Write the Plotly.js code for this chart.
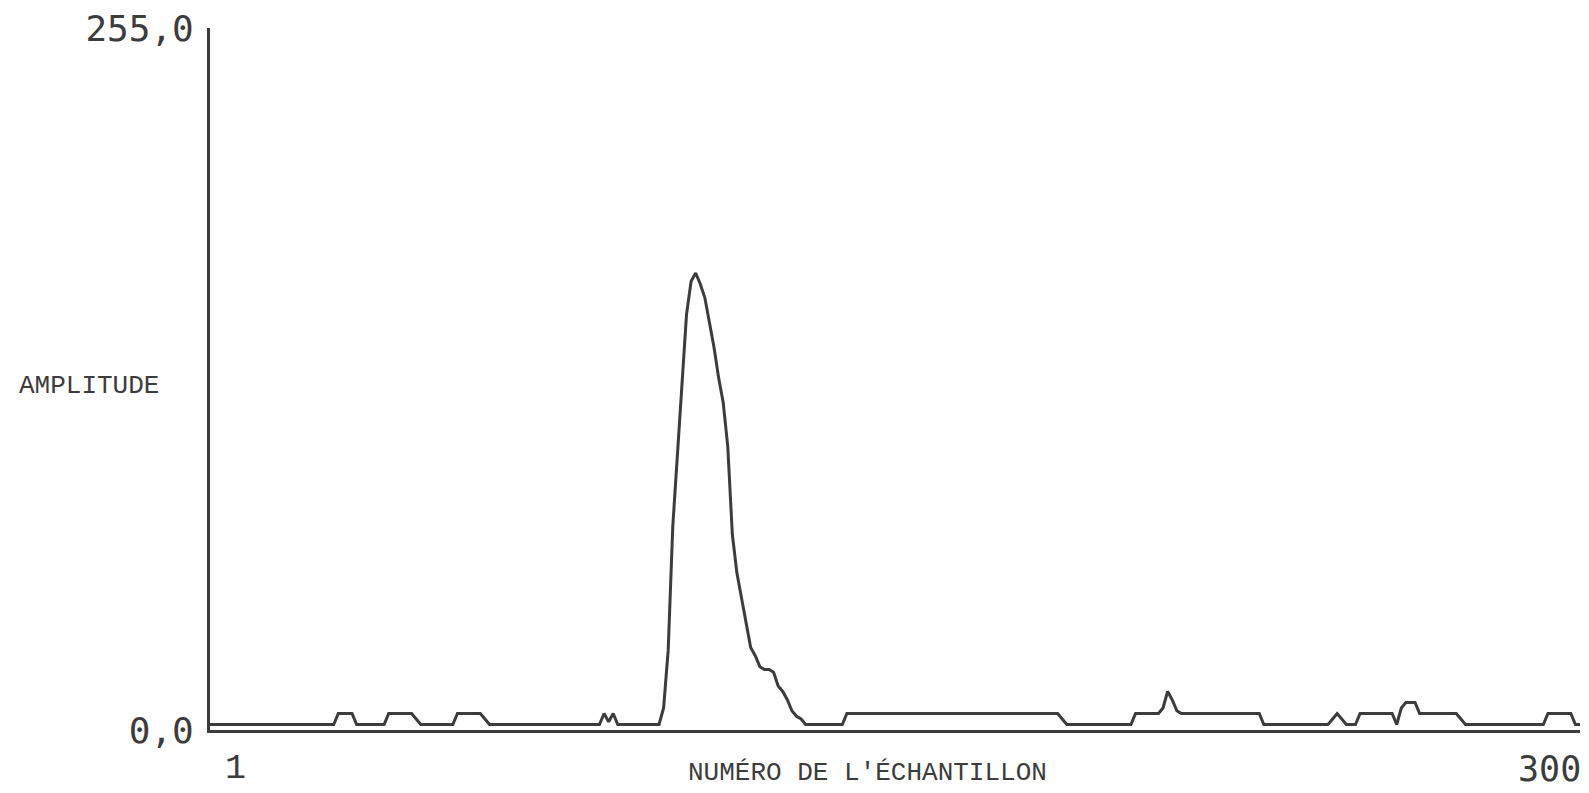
<!DOCTYPE html>
<html>
<head>
<meta charset="utf-8">
<script src="https://cdn.plot.ly/plotly-3.0.1.min.js"></script>
<style>html,body{margin:0;padding:0;background:#fff;}#chart{width:1589px;height:793px;}</style>
</head>
<body>
<div id="chart"></div>
<script>
// Sample numbers run from 1 to 300 (x0 = 1, dx = 1)
const firstSample = 1;
const lastSample = 300;

// Amplitude of each sample
const amplitude = [
  2,2,2,2,2,2,2,2,2,2,
  2,2,2,2,2,2,2,2,2,2,
  2,2,2,2,2,2,2,2,6,6,
  6,6,2,2,2,2,2,2,2,6,
  6,6,6,6,6,4,2,2,2,2,
  2,2,2,2,6,6,6,6,6,6,
  4,2,2,2,2,2,2,2,2,2,
  2,2,2,2,2,2,2,2,2,2,
  2,2,2,2,2,2,6,3,6,2,
  2,2,2,2,2,2,2,2,2,8,
  29,74,99,124,151,163,166,162,157,148,
  139,128,119,103,71,57,48,38,30,27,
  23,22,22,21,16,14,11,7,5,4,
  2,2,2,2,2,2,2,2,2,6,
  6,6,6,6,6,6,6,6,6,6,
  6,6,6,6,6,6,6,6,6,6,
  6,6,6,6,6,6,6,6,6,6,
  6,6,6,6,6,6,6,6,6,6,
  6,6,6,6,6,6,4,2,2,2,
  2,2,2,2,2,2,2,2,2,2,
  2,2,6,6,6,6,6,6,8,14,
  11,7,6,6,6,6,6,6,6,6,
  6,6,6,6,6,6,6,6,6,6,
  2,2,2,2,2,2,2,2,2,2,
  2,2,2,2,2,4,6,4,2,2,
  2,6,6,6,6,6,6,6,6,2,
  8,10,10,10,6,6,6,6,6,6,
  6,6,6,4,2,2,2,2,2,2,
  2,2,2,2,2,2,2,2,2,2,
  2,2,6,6,6,6,6,6,2,2
];

const yTickVals = [0, 255];
const yTickText = ['0,0', '255,0'];
const xTickLabels = ['1', '300'];
const yTitle = 'AMPLITUDE';
const xTitle = "NUMÉRO DE L'ÉCHANTILLON";

const ink = '#3c3c3c';
const plotterFont = 'DejaVu Sans Mono, monospace';
const typeFont = 'Liberation Mono, Courier New, monospace';

const trace = {
  type: 'scatter',
  mode: 'lines',
  x0: firstSample,
  dx: 1,
  y: amplitude,
  line: {color: ink, width: 3},
  hoverinfo: 'skip'
};

const layout = {
  width: 1589,
  height: 793,
  margin: {l: 210, r: 9, t: 28, b: 62.5, pad: 0},
  paper_bgcolor: '#ffffff',
  plot_bgcolor: '#ffffff',
  showlegend: false,
  xaxis: {
    range: [firstSample, lastSample],
    showgrid: false,
    zeroline: false,
    showline: true,
    linecolor: ink,
    linewidth: 3,
    ticks: '',
    showticklabels: false,
    fixedrange: true
  },
  yaxis: {
    range: [0, 255],
    showgrid: false,
    zeroline: false,
    showline: true,
    linecolor: ink,
    linewidth: 3,
    ticks: '',
    tickmode: 'array',
    tickvals: yTickVals,
    ticktext: yTickText,
    tickfont: {family: plotterFont, size: 36, color: ink},
    ticklabelstandoff: 6,
    fixedrange: true
  },
  annotations: [
    {text: xTickLabels[0], xref: 'x', yref: 'paper', x: firstSample, y: 0,
     xanchor: 'center', yanchor: 'bottom', xshift: 25, yshift: -61, showarrow: false,
     font: {family: typeFont, size: 35, color: ink}},
    {text: xTickLabels[1], xref: 'x', yref: 'paper', x: lastSample, y: 0,
     xanchor: 'center', yanchor: 'bottom', xshift: -31, yshift: -61, showarrow: false,
     font: {family: plotterFont, size: 35, color: ink}},
    {text: yTitle, xref: 'paper', yref: 'paper', x: -0.1409, y: 0.4897,
     xanchor: 'left', yanchor: 'middle', showarrow: false,
     font: {family: typeFont, size: 26, color: ink}},
    {text: xTitle, xref: 'paper', yref: 'paper', x: 0.4796, y: 0,
     xanchor: 'center', yanchor: 'middle', yshift: -43, showarrow: false,
     font: {family: typeFont, size: 26, color: ink}}
  ]
};

Plotly.newPlot('chart', [trace], layout, {displayModeBar: false, staticPlot: true});
</script>
</body>
</html>
